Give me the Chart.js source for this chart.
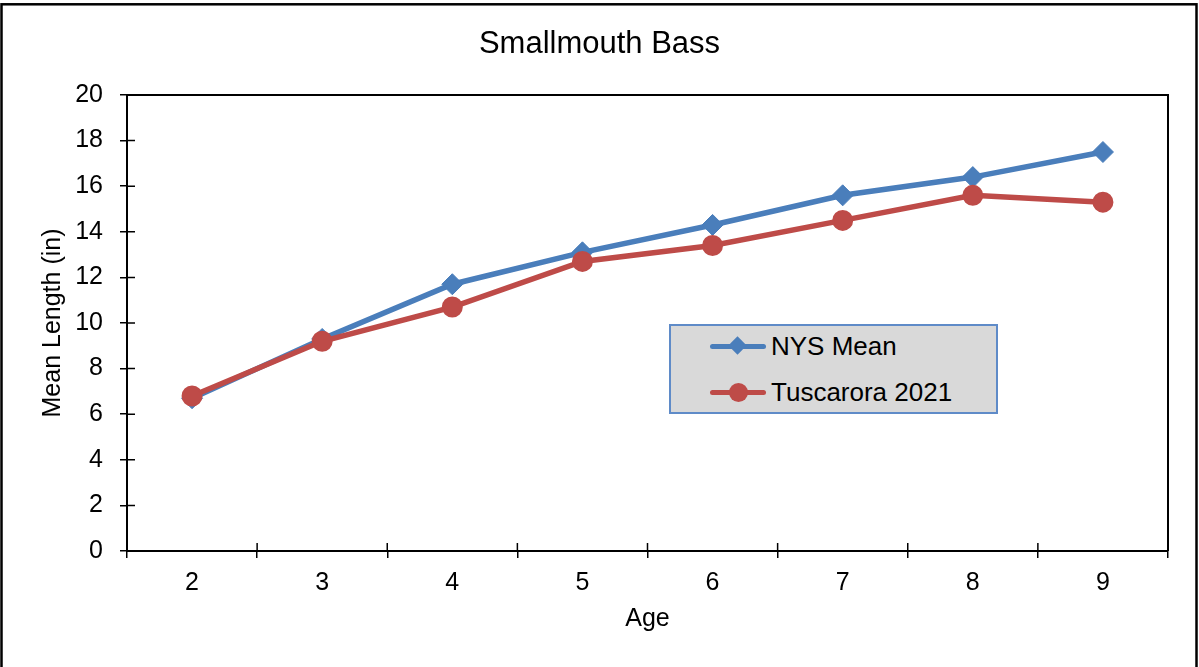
<!DOCTYPE html>
<html>
<head>
<meta charset="utf-8">
<title>Smallmouth Bass</title>
<script src="https://cdn.jsdelivr.net/npm/chart.js@4/dist/chart.umd.min.js"></script>
<style>
    body { margin: 0; background: #fff; }
    #wrap { position: relative; width: 1199px; height: 667px; }
    #legend {
        position: absolute; left: 669px; top: 324px;
        width: 325px; height: 86px;
        background: #d9d9d9; border: 2px solid #5f8bc8;
        font-family: "Liberation Sans", Arial, sans-serif; font-size: 26px; color: #000;
    }
    .legend-row { position: absolute; left: 0; height: 30px; display: flex; align-items: center; }
    .legend-sample { position: relative; width: 56px; height: 30px; margin-left: 39px; margin-right: 5px; }
    .legend-line { position: absolute; left: 0; right: 0; top: 12.5px; height: 5.5px; border-radius: 3px; }
    .legend-mark { position: absolute; }
</style>
</head>
<body>
<div id="wrap">
    <canvas id="bassChart"></canvas>
    <div id="legend"></div>
</div>
<script>
// ===================================
// Smallmouth Bass - mean length at age
// ===================================

const ages = ['2', '3', '4', '5', '6', '7', '8', '9'];
const nysMean = [6.7, 9.3, 11.7, 13.1, 14.3, 15.6, 16.4, 17.5];
const tuscarora2021 = [6.8, 9.2, 10.7, 12.7, 13.4, 14.5, 15.6, 15.3];
const seriesNames = ['NYS Mean', 'Tuscarora 2021'];
const yTicks = [0, 2, 4, 6, 8, 10, 12, 14, 16, 18, 20];

const BLUE = '#4a7ebb';
const RED = '#be4b48';
const FONT = '"Liberation Sans", Arial, sans-serif';

// Frame around the figure plus the top/right edges of the plot box
const framePlugin = {
    id: 'frame',
    beforeDraw(chart) {
        const ctx = chart.ctx;
        ctx.save();
        ctx.fillStyle = '#fff';
        ctx.fillRect(0, 0, chart.width, chart.height);
        ctx.strokeStyle = '#000';
        ctx.lineWidth = 2.5;
        ctx.strokeRect(1.5, 4.3, 1195, 700);
        ctx.restore();
    },
    afterDraw(chart) {
        const ctx = chart.ctx;
        const area = chart.chartArea;
        const x = chart.scales.x;
        const y = chart.scales.y;
        ctx.save();
        ctx.strokeStyle = '#000';
        ctx.lineWidth = 2;
        ctx.beginPath();
        ctx.moveTo(area.left, area.top);
        ctx.lineTo(area.right, area.top);
        ctx.lineTo(area.right, area.bottom);
        ctx.stroke();

        // tick marks cross the axes: inner half
        ctx.lineWidth = 1.5;
        ctx.beginPath();
        y.ticks.forEach(t => {
            const py = y.getPixelForValue(t.value);
            ctx.moveTo(area.left, py);
            ctx.lineTo(area.left + 8, py);
        });
        const bounds = [area.left];
        for (let i = 0; i < ages.length - 1; i++) {
            bounds.push((x.getPixelForValue(i) + x.getPixelForValue(i + 1)) / 2);
        }
        bounds.push(area.right);
        bounds.forEach(px => {
            ctx.moveTo(px, area.bottom);
            ctx.lineTo(px, area.bottom - 8);
        });
        ctx.stroke();
        ctx.restore();
    }
};

const chart = new Chart(document.getElementById('bassChart'), {
    type: 'line',
    data: {
        labels: ages,
        datasets: [{
            label: seriesNames[0],
            data: nysMean,
            borderColor: BLUE,
            backgroundColor: BLUE,
            borderWidth: 5.5,
            pointStyle: 'rectRot',
            pointRadius: 10.5,
            pointBorderWidth: 1,
            order: 1
        }, {
            label: seriesNames[1],
            data: tuscarora2021,
            borderColor: RED,
            backgroundColor: RED,
            borderWidth: 5.5,
            pointStyle: 'circle',
            pointRadius: 9.5,
            pointBorderWidth: 2,
            order: 0
        }]
    },
    options: {
        responsive: true,
        maintainAspectRatio: false,
        animation: false,
        layout: { padding: { left: 31, right: 31, top: 0, bottom: 0 } },
        plugins: {
            legend: { display: false },
            tooltip: { enabled: false },
            title: {
                display: true,
                text: 'Smallmouth Bass',
                color: '#000',
                font: { family: FONT, size: 31, weight: 'normal' },
                padding: { top: 25.6, bottom: 32.2 }
            }
        },
        scales: {
            x: {
                offset: true,
                grid: {
                    offset: true,
                    drawOnChartArea: false,
                    tickLength: 7,
                    color: '#000',
                    lineWidth: 1.5
                },
                border: { color: '#000', width: 2 },
                ticks: { color: '#000', padding: 10, font: { family: FONT, size: 25 } },
                title: {
                    display: true,
                    text: 'Age',
                    color: '#000',
                    font: { family: FONT, size: 25 },
                    padding: { top: 0, bottom: 33 }
                },
                afterFit(scale) { scale.height = 116; }
            },
            y: {
                min: yTicks[0],
                max: yTicks[yTicks.length - 1],
                afterBuildTicks(scale) { scale.ticks = yTicks.map(v => ({ value: v })); },
                grid: {
                    drawOnChartArea: false,
                    tickLength: 7,
                    color: '#000',
                    lineWidth: 1.5
                },
                border: { color: '#000', width: 2 },
                ticks: { color: '#000', padding: 17, font: { family: FONT, size: 25 } },
                title: {
                    display: true,
                    text: 'Mean Length (in)',
                    color: '#000',
                    font: { family: FONT, size: 25 },
                    padding: { top: 7, bottom: 0 }
                },
                afterFit(scale) { scale.width = 96; }
            }
        }
    },
    plugins: [framePlugin]
});

// HTML legend built from the chart's datasets
function buildLegend() {
    const box = document.getElementById('legend');
    const rowTops = [5, 51];
    box.innerHTML = chart.data.datasets.map((ds, i) => {
        const isDiamond = ds.pointStyle === 'rectRot';
        const mark = isDiamond
            ? `<div class="legend-mark" style="left:21px;top:8px;width:13px;height:13px;background:${ds.borderColor};transform:rotate(45deg)"></div>`
            : `<div class="legend-mark" style="left:18.5px;top:6px;width:19px;height:19px;border-radius:50%;background:${ds.borderColor}"></div>`;
        return `
            <div class="legend-row" style="top:${rowTops[i]}px">
                <div class="legend-sample">
                    <div class="legend-line" style="background:${ds.borderColor}"></div>
                    ${mark}
                </div>
                <span>${ds.label}</span>
            </div>`;
    }).join('');
}

buildLegend();
</script>
</body>
</html>
